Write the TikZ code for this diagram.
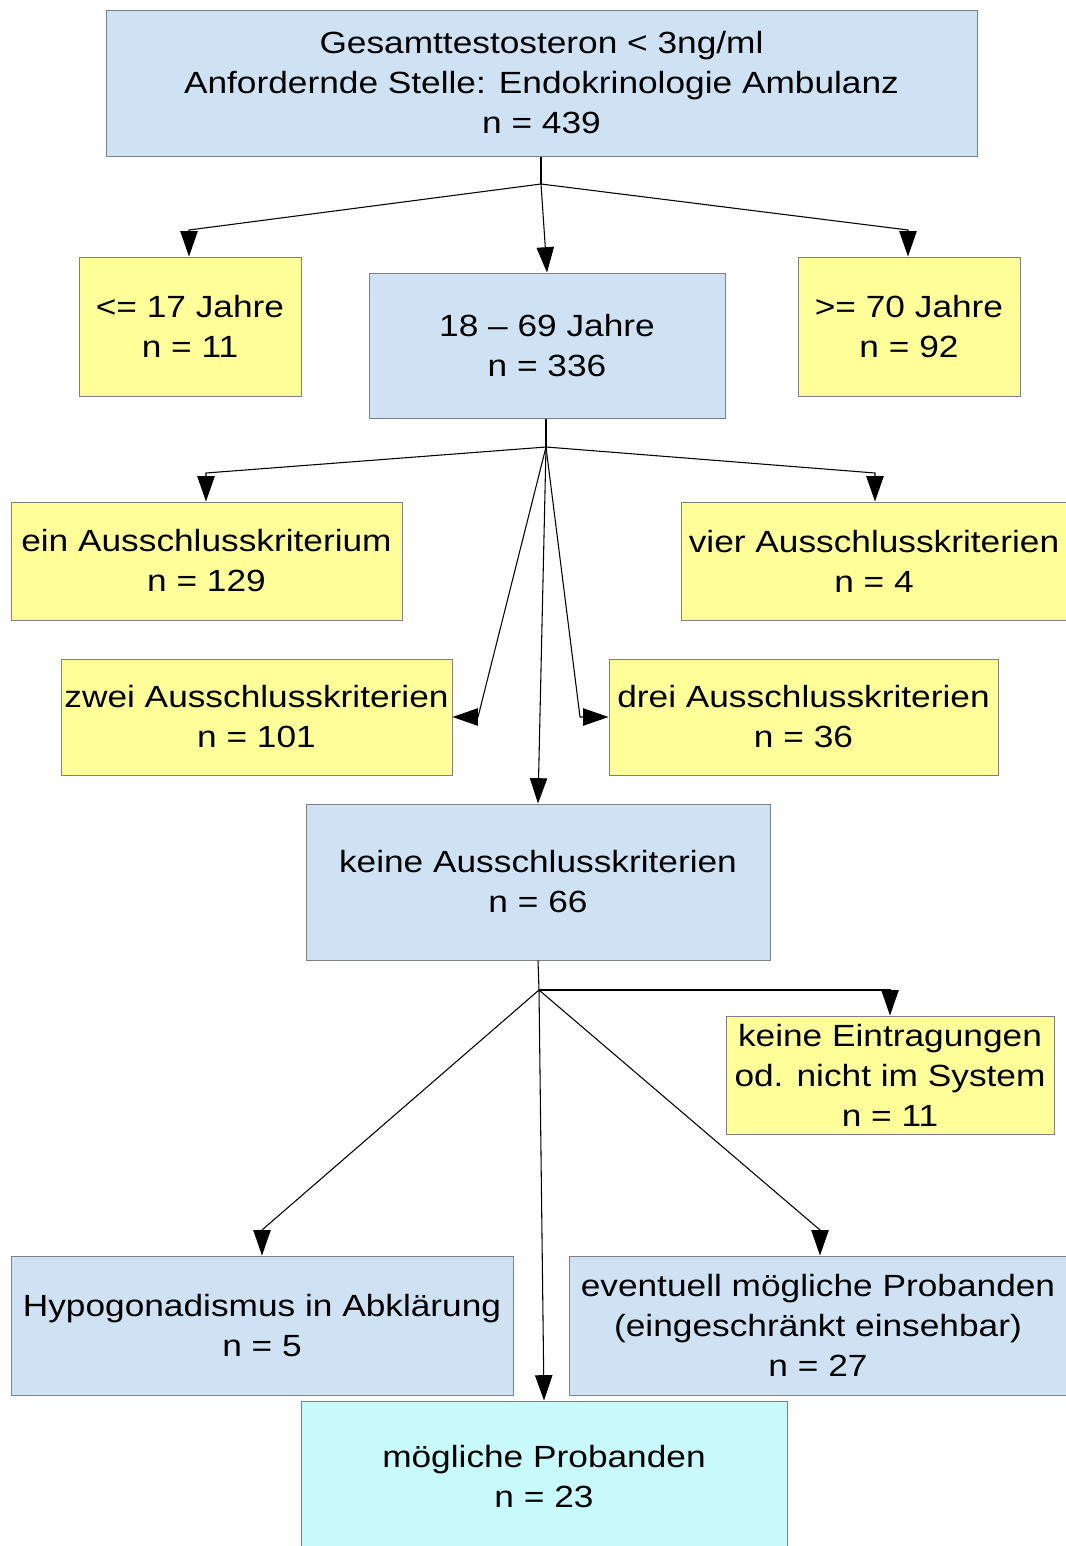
\documentclass[tikz,border=0pt]{standalone}
\usepackage{fontspec}
\setmainfont{Liberation Sans}[FakeStretch=1.15]
\usetikzlibrary{arrows.meta}
\definecolor{boxblue}{HTML}{CFE2F3}
\definecolor{boxyellow}{HTML}{FFFF99}
\definecolor{boxcyan}{HTML}{C8FAFC}
\definecolor{boxedge}{HTML}{808080}
\tikzset{
  box/.style={draw=boxedge, line width=0.75pt, inner sep=0pt, align=center,
    font=\fontsize{23}{30}\selectfont, anchor=center},
  blue box/.style={box, fill=boxblue},
  yellow box/.style={box, fill=boxyellow},
  cyan box/.style={box, fill=boxcyan},
  size/.style args={#1/#2}{minimum width=#1*0.75pt, minimum height=#2*0.75pt},
  conn/.style={draw=black, line width=0.8pt},
  arr/.style={conn, -{Triangle[length=19pt,width=13pt]}},
}
\begin{document}
\begin{tikzpicture}[x=0.75pt, y=-0.75pt]
\useasboundingbox (0,0) rectangle (1065,1546);
\fill[white] (0,0) rectangle (1065,1546);

\node[blue box, size=871/146] (top) at (541.5,83)
  {Gesamttestosteron < 3ng/ml\\Anfordernde Stelle: Endokrinologie Ambulanz\\n = 439};
\node[yellow box, size=222/139] (lt) at (190,326.5) {<= 17 Jahre\\n = 11};
\node[blue box, size=356/145] (mid) at (547,345.5) {18 – 69 Jahre\\n = 336};
\node[yellow box, size=222/139] (rt) at (909,326.5) {>= 70 Jahre\\n = 92};

\node[yellow box, size=391/118] (ein) at (206.5,561) {ein Ausschlusskriterium\\n = 129};
\node[yellow box, size=386/118] (vier) at (874,561) {vier Ausschlusskriterien\\n = 4};
\node[yellow box, size=391/116] (zwei) at (256.5,717) {zwei Ausschlusskriterien\\n = 101};
\node[yellow box, size=389/116] (drei) at (803.5,717) {drei Ausschlusskriterien\\n = 36};
\node[blue box, size=464/156] (keine) at (538,882) {keine Ausschlusskriterien\\n = 66};

\node[yellow box, size=328/118] (eintr) at (890,1075)
  {keine Eintragungen\\od. nicht im System\\n = 11};
\node[blue box, size=502/139] (hypo) at (262,1325.5) {Hypogonadismus in Abklärung\\n = 5};
\node[blue box, size=498/139] (ev) at (818,1325.5)
  {eventuell mögliche Probanden\\(eingeschränkt einsehbar)\\n = 27};
\node[cyan box, size=486/152] (mog) at (544,1477) {mögliche Probanden\\n = 23};

% junctions and bends
\coordinate (j1) at (541,184);
\coordinate (b1) at (189,230);
\coordinate (b2) at (908,230);
\coordinate (j2) at (546,447);
\coordinate (b3) at (206,473);
\coordinate (b4) at (875,473);
\coordinate (b5) at (478,717);
\coordinate (b6) at (580,717);
\coordinate (j3) at (539,990);
\coordinate (b7) at (890,990);
\coordinate (b8) at (262,1230);
\coordinate (b9) at (820,1230);

\draw[conn] (top.south -| j1) -- (j1);
\draw[arr] (j1) -- (b1) -- (b1 |- lt.north);
\draw[arr] (j1) -- (mid.north);
\draw[arr] (j1) -- (b2) -- (b2 |- rt.north);

\draw[conn] (mid.south -| j2) -- (j2);
\draw[arr] (j2) -- (b3) -- (b3 |- ein.north);
\draw[arr] (j2) -- (b4) -- (b4 |- vier.north);
\draw[arr] (j2) -- (b5) -- (zwei.east);
\draw[arr] (j2) -- (b6) -- (drei.west);
\draw[arr] (j2) -- (keine.north);

\draw[conn] (keine.south) -- (j3);
\draw[arr] (j3) -- (b7) -- (b7 |- eintr.north);
\draw[arr] (j3) -- (b8) -- (b8 |- hypo.north);
\draw[arr] (j3) -- (b9) -- (b9 |- ev.north);
\draw[arr] (j3) -- (mog.north);
\end{tikzpicture}
\end{document}
